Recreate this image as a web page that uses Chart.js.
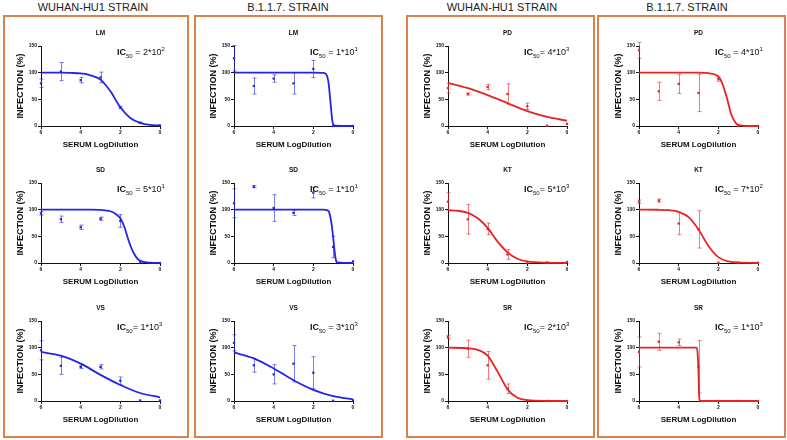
<!DOCTYPE html>
<html>
<head>
<meta charset="utf-8">
<script src="https://cdn.jsdelivr.net/npm/chart.js@4.4.0/dist/chart.umd.min.js"></script>
<style>
    body { margin: 0; background: #fff; width: 787px; height: 440px; position: relative; overflow: hidden;
           font-family: "Liberation Sans", Arial, sans-serif; }
    .box { position: absolute; top: 15px; height: 423px; border: 2px solid #d9834c; box-sizing: border-box; }
    .head { position: absolute; top: 1px; font-size: 11px; color: #222; white-space: nowrap; transform: translateX(-50%); }
    .panel { position: absolute; }
    .ic { position: absolute; font-size: 9px; line-height: 1; white-space: nowrap; color: #111; }
    .ic b { font-weight: bold; }
    .ic sub, .ic sup { font-size: 6px; line-height: 0; }
</style>
</head>
<body>
<div id="page"></div>
<script>
/*--------------------------------------------------------------------------------
----- DATA (serum dilution vs infection, mean +/- error and fitted curve)
--------------------------------------------------------------------------------*/

const doses = [6, 5, 4, 3, 2, 1, 0];
const strains = ['WUHAN-HU1 STRAIN', 'B.1.1.7. STRAIN', 'WUHAN-HU1 STRAIN', 'B.1.1.7. STRAIN'];
const sera = [['LM', 'SD', 'VS'], ['LM', 'SD', 'VS'], ['PD', 'KT', 'SR'], ['PD', 'KT', 'SR']];

// LM
const lmWuhanMean = [80, 102, 86, 91, 35, 6, 1];
const lmWuhanErr = [8, 17, 5, 10, 2, 1, 0];
const lmWuhanFitX = [6, 5, 4.5, 4, 3.5, 3, 2.5, 2, 1.5, 1, 0.5, 0];
const lmWuhanFitY = [100, 100, 99.5, 98.5, 95, 87, 65, 35, 15, 6, 2, 1];
const lmB117Mean = [127, 75, 89, 80, 107, 0, 0];
const lmB117Err = [24, 15, 7, 20, 16, 0, 0];
const lmB117FitX = [6, 2, 1.5, 1.35, 1.25, 1.2, 1.15, 1.1, 1.05, 1.0, 0.9, 0];
const lmB117FitY = [100, 100, 99.5, 97, 85, 70, 50, 30, 12, 3, 0.5, 0];

// SD
const sdWuhanMean = [93, 82, 67, 83, 79, 1, 0];
const sdWuhanErr = [3, 6, 4, 3, 12, 0, 0];
const sdWuhanFitX = [6, 3.5, 3, 2.5, 2.2, 2, 1.8, 1.6, 1.4, 1.2, 1, 0.5, 0];
const sdWuhanFitY = [100, 100, 99.5, 97, 91, 84, 68, 44, 24, 11, 4, 0.5, 0];
const sdB117Mean = [112, 143, 103, 94, 132, 30, 3];
const sdB117Err = [27, 2, 25, 5, 10, 20, 0];
const sdB117FitX = [6, 1.5, 1.3, 1.2, 1.1, 1.0, 0.95, 0.9, 0.85, 0.8, 0];
const sdB117FitY = [100, 100, 99, 95, 78, 48, 30, 14, 4, 1, 0];

// VS
const vsWuhanMean = [95, 66, 64, 64, 38, 1, 1];
const vsWuhanErr = [18, 16, 3, 4, 7, 0, 0];
const vsWuhanFitX = [6, 5, 4, 3, 2, 1, 0];
const vsWuhanFitY = [92, 85, 70, 49, 30, 15, 7];
const vsB117Mean = [109, 67, 50, 70, 53, 0.5, 1];
const vsB117Err = [15, 13, 18, 34, 30, 0, 0];
const vsB117FitX = [6, 5, 4, 3, 2, 1, 0];
const vsB117FitY = [91, 80, 61, 39, 21, 9, 3];

// PD
const pdWuhanMean = [71, 60, 73, 60, 37, 0.5, 4];
const pdWuhanErr = [9, 2, 5, 19, 6, 0, 0];
const pdWuhanFitX = [6, 5, 4, 3, 2, 1, 0];
const pdWuhanFitY = [81, 71, 58, 43, 28, 17, 10];
const pdB117Mean = [142, 65, 79, 62, 88, 0, 0];
const pdB117Err = [15, 17, 18, 35, 4, 0, 0];
const pdB117FitX = [6, 3, 2.5, 2.2, 2, 1.8, 1.55, 1.35, 1.15, 1, 0.5, 0];
const pdB117FitY = [100, 100, 99, 97, 93, 80, 50, 22, 7, 2, 0, 0];

// KT
const ktWuhanMean = [115, 82, 64, 16, 0.5, 1, 2];
const ktWuhanErr = [17, 28, 11, 9, 0, 0, 0];
const ktWuhanFitX = [6, 5.5, 5, 4.5, 4, 3.5, 3, 2.5, 2, 1, 0];
const ktWuhanFitY = [99, 98, 94, 84, 66, 40, 20, 8, 3, 0.5, 0];
const ktB117Mean = [115, 117, 74, 63, 0.5, 0.5, 0.5];
const ktB117Err = [3, 3, 21, 35, 0, 0, 0];
const ktB117FitX = [6, 5, 4.5, 4, 3.5, 3, 2.5, 2, 1.5, 1, 0];
const ktB117FitY = [100, 99.8, 99, 96, 86, 63, 32, 11, 3, 1, 0];

// SR
const srWuhanMean = [120, 98, 67, 23, 1, 0, 0];
const srWuhanErr = [3, 16, 26, 9, 0, 0, 0];
const srWuhanFitX = [6, 5, 4.5, 4, 3.5, 3, 2.5, 2, 1, 0];
const srWuhanFitY = [100, 99, 96, 85, 55, 22, 6, 1.5, 0.2, 0];
const srB117Mean = [92, 111, 110, 64, 0, 0, 0];
const srB117Err = [28, 16, 6, 49, 0, 0, 0];
const srB117FitX = [6, 3.1, 3.06, 3.03, 3.0, 2.98, 2.96, 2.9, 0];
const srB117FitY = [100, 100, 96, 80, 55, 25, 5, 0, 0];

// IC50 labels (mantissa, exponent)
const icMantissa = [['2', '5', '1'], ['1', '1', '3'], ['4', '5', '2'], ['4', '7', '1']];
const icExponent = [['2', '1', '3'], ['1', '1', '3'], ['3', '3', '3'], ['1', '2', '3']];

const series = [
    [[lmWuhanMean, lmWuhanErr, lmWuhanFitX, lmWuhanFitY], [sdWuhanMean, sdWuhanErr, sdWuhanFitX, sdWuhanFitY], [vsWuhanMean, vsWuhanErr, vsWuhanFitX, vsWuhanFitY]],
    [[lmB117Mean, lmB117Err, lmB117FitX, lmB117FitY], [sdB117Mean, sdB117Err, sdB117FitX, sdB117FitY], [vsB117Mean, vsB117Err, vsB117FitX, vsB117FitY]],
    [[pdWuhanMean, pdWuhanErr, pdWuhanFitX, pdWuhanFitY], [ktWuhanMean, ktWuhanErr, ktWuhanFitX, ktWuhanFitY], [srWuhanMean, srWuhanErr, srWuhanFitX, srWuhanFitY]],
    [[pdB117Mean, pdB117Err, pdB117FitX, pdB117FitY], [ktB117Mean, ktB117Err, ktB117FitX, ktB117FitY], [srB117Mean, srB117Err, srB117FitX, srB117FitY]]
];

/*--------------------------------------------------------------------------------
----- LAYOUT
--------------------------------------------------------------------------------*/

const boxLeft = [3, 194, 406, 597];
const boxWidth = [186, 189, 189, 189];
const headCenter = [93, 288, 502, 687];
const colLeft = [41, 234, 448, 639];
const rowTop = [46, 183, 321];
const plotW = 119, plotH = 80;
const padLeft = 40, padTop = 25, padBottom = 28, padRight = 10;

const page = document.getElementById('page');

// Error bars drawn from the scatter dataset through the chart scales
const errorBarsPlugin = {
    id: 'errorBars',
    beforeDatasetsDraw(chart) {
        const { ctx, scales: { x, y } } = chart;
        chart.data.datasets.forEach(ds => {
            if (!ds.errors) return;
            ctx.save();
            ctx.strokeStyle = ds.errorColor;
            ctx.lineWidth = 1;
            ds.data.forEach((p, i) => {
                const e = ds.errors[i];
                if (!e) return;
                const px = Math.round(x.getPixelForValue(p.x)) + 0.5;
                const top = y.getPixelForValue(p.y + e);
                const bot = y.getPixelForValue(p.y - e);
                ctx.beginPath();
                ctx.moveTo(px, top); ctx.lineTo(px, bot);
                ctx.moveTo(px - 2, top); ctx.lineTo(px + 2, top);
                ctx.moveTo(px - 2, bot); ctx.lineTo(px + 2, bot);
                ctx.stroke();
            });
            ctx.restore();
        });
    }
};

for (let c = 0; c < 4; c++) {
    let box = document.createElement('div');
    box.className = 'box';
    box.style.left = boxLeft[c] + 'px';
    box.style.width = boxWidth[c] + 'px';
    page.appendChild(box);

    let head = document.createElement('div');
    head.className = 'head';
    head.style.left = headCenter[c] + 'px';
    head.textContent = strains[c];
    page.appendChild(head);

    const color = c < 2 ? '#2424e6' : '#e62424';
    const errColor = c < 2 ? 'rgba(36,36,230,0.6)' : 'rgba(230,36,36,0.6)';

    for (let r = 0; r < 3; r++) {
        const [mean, err, fitX, fitY] = series[c][r];

        let holder = document.createElement('div');
        holder.className = 'panel';
        holder.style.left = (colLeft[c] - padLeft) + 'px';
        holder.style.top = (rowTop[r] - padTop) + 'px';
        let canvas = document.createElement('canvas');
        canvas.width = padLeft + plotW + padRight;
        canvas.height = padTop + plotH + padBottom;
        holder.appendChild(canvas);
        page.appendChild(holder);

        let ic = document.createElement('div');
        ic.className = 'ic';
        ic.style.left = (colLeft[c] + 76) + 'px';
        ic.style.top = (rowTop[r] + 2) + 'px';
        const gap = (c === 2 || (c === 0 && r === 2)) ? '' : ' ';
        ic.innerHTML = '<b>IC</b><sub>50</sub>' + gap + '= ' + icMantissa[c][r] + '*10<sup>' + icExponent[c][r] + '</sup>';
        page.appendChild(ic);

        new Chart(canvas.getContext('2d'), {
            data: {
                datasets: [{
                    type: 'line',
                    data: fitX.map((x, i) => ({ x: x, y: fitY[i] })),
                    borderColor: color,
                    borderWidth: 1.8,
                    pointRadius: 0,
                    cubicInterpolationMode: 'monotone',
                    fill: false,
                    clip: false
                }, {
                    type: 'scatter',
                    data: doses.map((x, i) => ({ x: x, y: mean[i] })),
                    errors: err,
                    errorColor: errColor,
                    backgroundColor: color,
                    borderWidth: 0,
                    pointStyle: 'rect',
                    pointRadius: 1.6,
                    clip: false
                }]
            },
            options: {
                responsive: false,
                animation: false,
                events: [],
                layout: { padding: { left: 0, right: padRight, top: 0, bottom: 0 } },
                plugins: {
                    legend: { display: false },
                    tooltip: { enabled: false },
                    title: {
                        display: true,
                        text: sera[c][r],
                        fullSize: false,
                        color: '#111',
                        font: { family: 'Liberation Sans', size: 6.5, weight: 'bold', lineHeight: 1 },
                        padding: { top: 9, bottom: 9.5 }
                    }
                },
                scales: {
                    x: {
                        type: 'linear',
                        min: 0, max: 6,
                        reverse: true,
                        afterFit(scale) { scale.height = padBottom; },
                        ticks: { stepSize: 2, padding: 1, color: '#111', font: { family: 'Liberation Sans', size: 5, weight: 'bold' } },
                        grid: { drawOnChartArea: false, tickLength: 3, color: '#111' },
                        border: { color: '#111', width: 1 },
                        title: {
                            display: true,
                            text: 'SERUM LogDilution',
                            color: '#111',
                            padding: 4,
                            font: { family: 'Liberation Sans', size: 8, weight: 'bold' }
                        }
                    },
                    y: {
                        min: 0, max: 150,
                        afterFit(scale) { scale.width = padLeft; },
                        ticks: { stepSize: 50, padding: 1, color: '#111', font: { family: 'Liberation Sans', size: 5, weight: 'bold' } },
                        grid: { drawOnChartArea: false, tickLength: 3, color: '#111' },
                        border: { color: '#111', width: 1 },
                        title: {
                            display: true,
                            text: 'INFECTION (%)',
                            color: '#111',
                            padding: 14,
                            font: { family: 'Liberation Sans', size: 9, weight: 'bold' }
                        }
                    }
                }
            },
            plugins: [errorBarsPlugin]
        });
    }
}
</script>
</body>
</html>
